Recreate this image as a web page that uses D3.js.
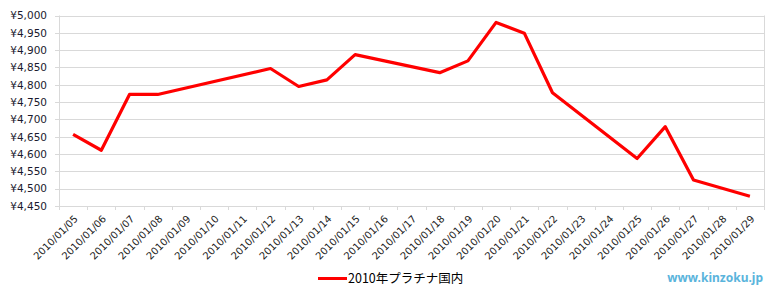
<html>
  <head>
    <meta charset="utf-8">
    <title>2010 platinum</title>
    <style>
      body { margin: 0; background: #fff; }
    </style>
  </head>
  <body>
  </body>

  <script src="https://d3js.org/d3.v7.min.js" charset="utf-8"></script>
  <script type="text/javascript">

// every day on the category axis
var days = ['2010/01/05', '2010/01/06', '2010/01/07', '2010/01/08', '2010/01/09',
  '2010/01/10', '2010/01/11', '2010/01/12', '2010/01/13', '2010/01/14',
  '2010/01/15', '2010/01/16', '2010/01/17', '2010/01/18', '2010/01/19',
  '2010/01/20', '2010/01/21', '2010/01/22', '2010/01/23', '2010/01/24',
  '2010/01/25', '2010/01/26', '2010/01/27', '2010/01/28', '2010/01/29'];

// trading days and prices (yen / g)
var priceDates = ['2010/01/05', '2010/01/06', '2010/01/07', '2010/01/08',
  '2010/01/12', '2010/01/13', '2010/01/14', '2010/01/15', '2010/01/18',
  '2010/01/19', '2010/01/20', '2010/01/21', '2010/01/22', '2010/01/25',
  '2010/01/26', '2010/01/27', '2010/01/29'];
var prices = [4657, 4611, 4772, 4772, 4847, 4795, 4814, 4887, 4835,
  4869, 4980, 4949, 4777, 4587, 4679, 4525, 4478];

var yTicks = [4450, 4500, 4550, 4600, 4650, 4700, 4750, 4800, 4850, 4900, 4950, 5000];

var seriesName = '2010年プラチナ国内';
var credit = 'www.kinzoku.jp';

var w = 780, h = 300;
// plot box (note: "top" is taken by window.top)
var pL = 59, pR = 764, pT = 15.5, pB = 206;

var svg = d3.select('body').append('svg')
    .attr('width', w)
    .attr('height', h)
    .style('font-family', '"DejaVu Sans", sans-serif');

var x = d3.scaleBand()
    .domain(days)
    .range([pL, pR]);

var y = d3.scaleLinear()
    .domain([4450, 5000])
    .range([pB, pT]);

// horizontal grid
svg.append('g').selectAll('line')
    .data(yTicks)
    .enter()
    .append('line')
    .attr('x1', pL - 4)
    .attr('x2', pR)
    .attr('y1', function(d){ return Math.round(y(d)) + 0.5; })
    .attr('y2', function(d){ return Math.round(y(d)) + 0.5; })
    .style('stroke', '#d9d9d9');

// left and right edges
svg.append('line')
    .attr('x1', pL + 0.5).attr('x2', pL + 0.5)
    .attr('y1', y(5000)).attr('y2', y(4450) + 4)
    .style('stroke', '#d9d9d9');
svg.append('line')
    .attr('x1', pR + 0.5).attr('x2', pR + 0.5)
    .attr('y1', y(5000)).attr('y2', y(4450) + 4)
    .style('stroke', '#d9d9d9');

// x ticks on slot boundaries
svg.append('g').selectAll('line')
    .data(days)
    .enter()
    .append('line')
    .attr('x1', function(d){ return Math.round(x(d)) + 0.5; })
    .attr('x2', function(d){ return Math.round(x(d)) + 0.5; })
    .attr('y1', Math.round(y(4450)))
    .attr('y2', Math.round(y(4450)) + 4)
    .style('stroke', '#d9d9d9');

// y labels
var fmt = d3.format(',');
svg.append('g').selectAll('text')
    .data(yTicks)
    .enter()
    .append('text')
    .attr('x', pL - 12)
    .attr('y', function(d){ return y(d); })
    .attr('dy', '0.36em')
    .attr('text-anchor', 'end')
    .style('font-size', '10.5px')
    .style('fill', '#1a1a2e')
    .text(function(d){ return '¥' + fmt(d); });

// x labels, rotated
svg.append('g').selectAll('text')
    .data(days)
    .enter()
    .append('text')
    .attr('transform', function(d){
      return 'translate(' + (x(d) + x.bandwidth() / 2 + 3) + ',' + (pB + 11) + ') rotate(-45)';
    })
    .attr('dy', '0.35em')
    .attr('text-anchor', 'end')
    .style('font-size', '10px')
    .style('fill', '#222')
    .text(function(d){ return d; });

// price line
var pts = priceDates.map(function(d, i){ return [d, prices[i]]; });
var line = d3.line()
    .x(function(d){ return x(d[0]) + x.bandwidth() / 2; })
    .y(function(d){ return y(d[1]); });

svg.append('path')
    .datum(pts)
    .attr('d', line)
    .style('fill', 'none')
    .style('stroke', '#ff0000')
    .style('stroke-width', 3.2)
    .style('stroke-linejoin', 'round');

// legend
svg.append('line')
    .attr('x1', 318).attr('x2', 347)
    .attr('y1', 278.5).attr('y2', 278.5)
    .style('stroke', '#ff0000')
    .style('stroke-width', 3);
svg.append('text')
    .attr('x', 348)
    .attr('y', 278)
    .attr('dy', '0.36em')
    .style('font-family', '"Noto Sans CJK JP", sans-serif')
    .style('font-size', '12.5px')
    .style('fill', '#000')
    .text(seriesName);

// credit
svg.append('text')
    .attr('x', 763)
    .attr('y', 278)
    .attr('dy', '0.36em')
    .attr('text-anchor', 'end')
    .style('font-family', '"Noto Sans", sans-serif')
    .style('font-weight', 'bold')
    .style('font-size', '12px')
    .style('fill', '#5ab4dc')
    .text(credit);

  </script>
</html>
